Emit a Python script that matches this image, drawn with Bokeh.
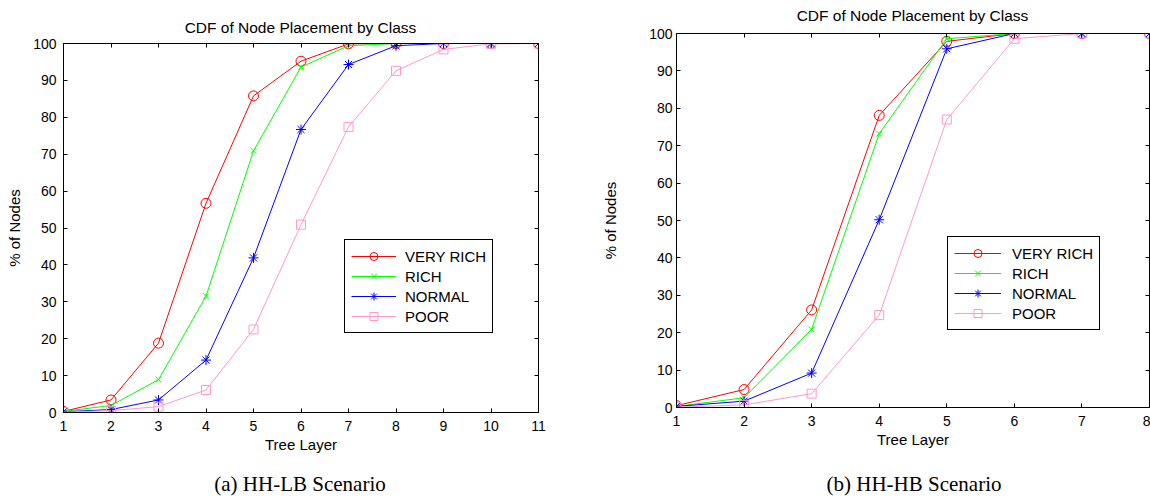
from bokeh.plotting import figure
from bokeh.layouts import row, column
from bokeh.models import (Range1d, LinearAxis, FixedTicker, Legend, LegendItem,
                          Div, Spacer, CustomLabelingPolicy)
from bokeh.embed import file_html
from bokeh.resources import INLINE

SANS = "Liberation Sans"
SERIF = "Liberation Serif"

classes = ["VERY RICH", "RICH", "NORMAL", "POOR"]
colors = ["#ff0000", "#00ff00", "#0000ff", "#ff99cc"]
markers = ["circle", "x", "asterisk", "square"]
marker_sizes = [10, 8, 10, 9]

# (a) HH-LB scenario
layers_a = [1, 2, 3, 4, 5, 6, 7, 8, 9, 10, 11]
very_rich_a = [0.3, 3.4, 18.8, 56.7, 85.8, 95.2, 99.9, 100, 100, 100, 100]
rich_a = [0.3, 1.9, 8.9, 31.5, 70.9, 93.6, 99.4, 100, 100, 100, 100]
normal_a = [0.2, 0.8, 3.4, 14.2, 41.9, 76.7, 94.3, 99.4, 100, 100, 100]
poor_a = [0.1, 0.5, 1.6, 6.1, 22.5, 50.9, 77.4, 92.6, 98.4, 99.9, 100]

# (b) HH-HB scenario
layers_b = [1, 2, 3, 4, 5, 6, 7, 8]
very_rich_b = [0.5, 4.8, 26.1, 78.1, 97.9, 100, 100, 100]
rich_b = [0.3, 2.6, 20.9, 73.2, 98.6, 100, 100, 100]
normal_b = [0.3, 1.7, 9.2, 50.2, 95.9, 100, 100, 100]
poor_b = [0.1, 0.7, 3.7, 24.7, 77.0, 98.6, 100, 100]

y_ticks = [0, 10, 20, 30, 40, 50, 60, 70, 80, 90, 100]

title_text = "CDF of Node Placement by Class"
x_label = "Tree Layer"
y_label = "% of Nodes"
caption_a = "(a) HH-LB Scenario"
caption_b = "(b) HH-HB Scenario"

HIDE_ALL = """
const all = Array.from(indices)
for (const i of all) indices.unset(i)
return indices
"""


def style_axis(ax, show_labels=True):
    ax.major_tick_in = 4
    ax.major_tick_out = 0
    ax.minor_tick_line_color = None
    ax.axis_line_color = "black"
    ax.axis_line_width = 1
    ax.major_tick_line_color = "black"
    ax.major_label_text_font = SANS
    ax.major_label_text_color = "black"
    ax.axis_label_text_font = SANS
    ax.axis_label_text_font_size = "15px"
    ax.axis_label_text_font_style = "normal"
    ax.axis_label_text_color = "black"
    if show_labels:
        ax.major_label_text_font_size = "14px"
    else:
        ax.major_label_text_font_size = "0px"
        ax.major_label_policy = CustomLabelingPolicy(code=HIDE_ALL)
        ax.major_label_standoff = 0


def make_plot(xs, series, width, height, borders, legend_loc,
              lab_standoff_y, axis_standoff_y, lab_standoff_x, axis_standoff_x,
              glyph_w, leg_standoff):
    left, right, top, bottom = borders
    p = figure(width=width, height=height,
               x_range=Range1d(xs[0], xs[-1]), y_range=Range1d(0, 100),
               output_backend="svg", toolbar_location=None,
               min_border_left=left, min_border_right=right,
               min_border_top=top, min_border_bottom=bottom,
               background_fill_color="white", border_fill_color=None)
    p.outline_line_color = None
    p.xgrid.visible = False
    p.ygrid.visible = False

    p.xaxis.ticker = FixedTicker(ticks=list(xs))
    p.yaxis.ticker = FixedTicker(ticks=y_ticks)
    p.xaxis.axis_label = x_label
    p.yaxis.axis_label = y_label
    style_axis(p.xaxis[0])
    style_axis(p.yaxis[0])
    p.xaxis.major_label_standoff = lab_standoff_x
    p.xaxis.axis_label_standoff = axis_standoff_x
    p.yaxis.major_label_standoff = lab_standoff_y
    p.yaxis.axis_label_standoff = axis_standoff_y

    top_ax = LinearAxis(ticker=FixedTicker(ticks=list(xs)))
    right_ax = LinearAxis(ticker=FixedTicker(ticks=y_ticks))
    style_axis(top_ax, False)
    style_axis(right_ax, False)
    p.add_layout(top_ax, "above")
    p.add_layout(right_ax, "right")

    items = []
    for name, ys, c, m, s in zip(classes, series, colors, markers, marker_sizes):
        ln = p.line(xs, ys, line_color=c, line_width=1)
        sc = p.scatter(xs, ys, marker=m, size=s, line_color=c, fill_color=None,
                       line_width=1)
        items.append(LegendItem(label=name, renderers=[ln, sc]))

    leg = Legend(items=items, location=legend_loc)
    leg.border_line_color = "black"
    leg.border_line_width = 1
    leg.border_line_alpha = 1
    leg.background_fill_color = "white"
    leg.background_fill_alpha = 1
    leg.label_text_font = SANS
    leg.label_text_font_size = "15px"
    leg.label_text_color = "black"
    leg.glyph_width = glyph_w
    leg.glyph_height = 20
    leg.label_height = 20
    leg.padding = 6
    leg.spacing = 0
    leg.label_standoff = leg_standoff
    leg.margin = 0
    p.add_layout(leg, "center")
    return p


def title_div(height, pad_top, pad_left):
    style = {"font-family": SANS, "font-size": "15.5px", "color": "black",
             "text-align": "center", "white-space": "nowrap",
             "overflow": "visible"}
    return Div(text=(f'<div style="padding-top:{pad_top}px;padding-left:{pad_left}px;'
                     f'line-height:18px">{title_text}</div>'),
               width=575, height=height, margin=0, styles=style)


pa = make_plot(layers_a, [very_rich_a, rich_a, normal_a, poor_a],
               575, 429, (63, 37, 10, 50), (281, 79), 7, 7, 8, 2, 45, 9)
pb = make_plot(layers_b, [very_rich_b, rich_b, normal_b, poor_b],
               575, 434, (101, 1, 10, 50), (271, 77), 4, 27, 8, 2, 47, 11)

left_col = column(title_div(33, 19, 26), pa, spacing=0)
right_col = column(title_div(23, 7, 100), pb, Spacer(width=575, height=5), spacing=0)
plots = row(left_col, right_col, spacing=0)

cap_style = {"font-family": SERIF, "font-size": "21px", "color": "black",
             "text-align": "center", "white-space": "nowrap"}
div_a = Div(text=f'<div style="padding-top:7px">{caption_a}</div>',
            width=600, height=40, margin=0, styles=cap_style)
div_b = Div(text=f'<div style="padding-top:7px">{caption_b}</div>',
            width=476, height=40, margin=0, styles=cap_style)
captions = row(div_a, Spacer(width=76, height=40), div_b, spacing=0)

layout = column(plots, captions, spacing=0)
open("out.html", "w").write(file_html(layout, INLINE))
